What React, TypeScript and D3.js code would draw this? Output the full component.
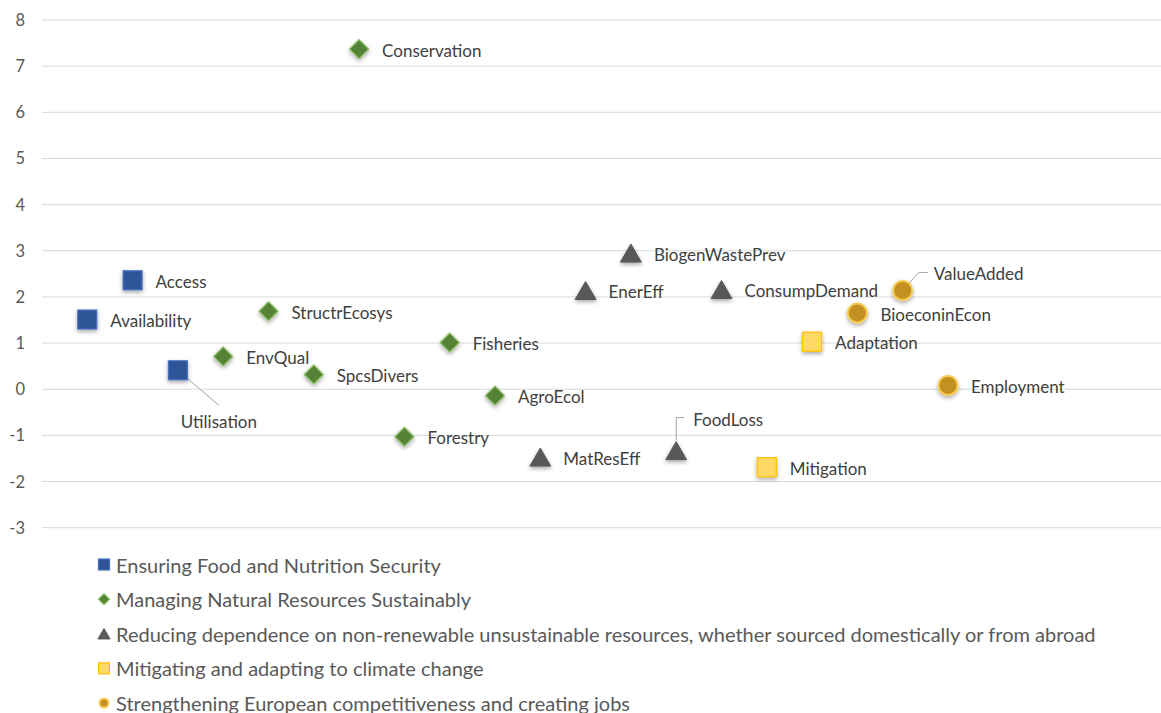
import React from "react";
import * as d3 from "d3";

const seriesNames = [
  "Ensuring Food and Nutrition Security",
  "Managing Natural Resources Sustainably",
  "Reducing dependence on non-renewable unsustainable resources, whether sourced domestically or from abroad",
  "Mitigating and adapting to climate change",
  "Strengthening European competitiveness and creating jobs",
];

const pointNames = [
  "Availability", "Access", "Utilisation",
  "EnvQual", "StructrEcosys", "SpcsDivers", "Conservation", "Forestry", "Fisheries", "AgroEcol",
  "MatResEff", "EnerEff", "BiogenWastePrev", "FoodLoss", "ConsumpDemand",
  "Mitigation", "Adaptation",
  "BioeconinEcon", "ValueAdded", "Employment",
];
const pointX = [1, 2, 3, 4, 5, 6, 7, 8, 9, 10, 11, 12, 13, 14, 15, 16, 17, 18, 19, 20];
const pointY = [
  1.51, 2.36, 0.41,
  0.71, 1.69, 0.32, 7.37, -1.03, 1.01, -0.14,
  -1.47, 2.14, 2.95, -1.33, 2.16,
  -1.69, 1.03,
  1.65, 2.14, 0.08,
];
const pointSeries = [0, 0, 0, 1, 1, 1, 1, 1, 1, 1, 2, 2, 2, 2, 2, 3, 3, 4, 4, 4];
const yTicks = [-3, -2, -1, 0, 1, 2, 3, 4, 5, 6, 7, 8];

// styling per series
const seriesStyle = [
  { shape: "square", fill: "#2F5597", stroke: "#4A72C0" },
  { shape: "diamond", fill: "#548235", stroke: "#8CC168" },
  { shape: "triangle", fill: "#595959", stroke: "#595959" },
  { shape: "square", fill: "#FFD966", stroke: "#FFC000" },
  { shape: "circle", fill: "#C39024", stroke: "#F7CB4D" },
];

// label placement (pixel offsets), layout only
const labelLayout: Record<string, any> = {
  Utilisation: { dx: 41, dy: 51, anchor: "middle", leader: [[0, 0], [41, 35]] },
  FoodLoss: { dx: 17, dy: -31, anchor: "start", leader: [[0, -10], [0, -33], [8, -33]] },
  ValueAdded: { dx: 31, dy: -17, anchor: "start", leader: [[0, 0], [16, -18], [25, -18]] },
};

const W = 1161;
const H = 713;
const FONT = "Lato, 'Open Sans', sans-serif";

function Marker({ shape, fill, stroke, size, x, y, filter }: any) {
  const h = size / 2;
  if (shape === "square")
    return <rect x={x - h} y={y - h} width={size} height={size} fill={fill} stroke={stroke} strokeWidth={1.2} filter={filter} />;
  if (shape === "diamond")
    return <path d={`M${x},${y - h}L${x + h},${y}L${x},${y + h}L${x - h},${y}Z`} fill={fill} stroke={stroke} strokeWidth={1.2} filter={filter} />;
  if (shape === "triangle")
    return <path d={`M${x},${y - h * 0.95}L${x + h * 1.1},${y + h * 0.95}L${x - h * 1.1},${y + h * 0.95}Z`} fill={fill} stroke={stroke} strokeWidth={1} filter={filter} />;
  return <circle cx={x} cy={y} r={h - 1} fill={fill} stroke={stroke} strokeWidth={2} filter={filter} />;
}

export default function App() {
  const x = d3.scaleLinear().domain([0, 25]).range([42, 42 + 25 * 45.3]);
  const y = d3.scaleLinear().domain([-3, 8]).range([527.7, 20]);
  const legendY = d3.scaleLinear().domain([0, 4]).range([564.5, 703]);

  return (
    <svg width={W} height={H} style={{ position: "fixed", left: 0, top: 0, background: "#fff" }} fontFamily={FONT}>
      <defs>
        <filter id="sh" x="-50%" y="-50%" width="200%" height="200%">
          <feDropShadow dx="0" dy="2" stdDeviation="2" floodColor="#000" floodOpacity="0.35" />
        </filter>
      </defs>
      <rect width={W} height={H} fill="#fff" />
      {yTicks.map((t) => (
        <g key={t}>
          <line x1={42} x2={W} y1={y(t)} y2={y(t)} stroke="#D9D9D9" strokeWidth={1} />
          <text x={25} y={y(t)} textAnchor="end" dominantBaseline="central" fontSize={16.5} fill="#595959">
            {t}
          </text>
        </g>
      ))}
      {pointNames.map((n, i) => {
        const lay = labelLayout[n];
        if (!lay) return null;
        const cx = x(pointX[i]);
        const cy = y(pointY[i]);
        const pts = lay.leader.map((p: number[]) => [cx + p[0], cy + p[1]]);
        return <path key={"l" + n} d={d3.line()(pts) as string} fill="none" stroke="#A6A6A6" strokeWidth={1} />;
      })}
      {pointNames.map((n, i) => {
        const s = seriesStyle[pointSeries[i]];
        const sz = s.shape === "circle" ? 21 : 19;
        return <Marker key={"m" + n} {...s} size={sz} x={x(pointX[i])} y={y(pointY[i])} filter="url(#sh)" />;
      })}
      {pointNames.map((n, i) => {
        const lay = labelLayout[n] || { dx: 23, dy: 1, anchor: "start" };
        return (
          <text key={"t" + n} x={x(pointX[i]) + lay.dx} y={y(pointY[i]) + lay.dy} textAnchor={lay.anchor}
            dominantBaseline="central" fontSize={17} fill="#404040">
            {n}
          </text>
        );
      })}
      {seriesNames.map((name, k) => {
        const s = seriesStyle[k];
        const ly = legendY(k);
        return (
          <g key={"lg" + k}>
            <Marker {...s} size={11} x={104} y={ly} />
            <text x={116} y={ly} dominantBaseline="central" fontSize={20} fill="#595959">
              {name}
            </text>
          </g>
        );
      })}
    </svg>
  );
}
